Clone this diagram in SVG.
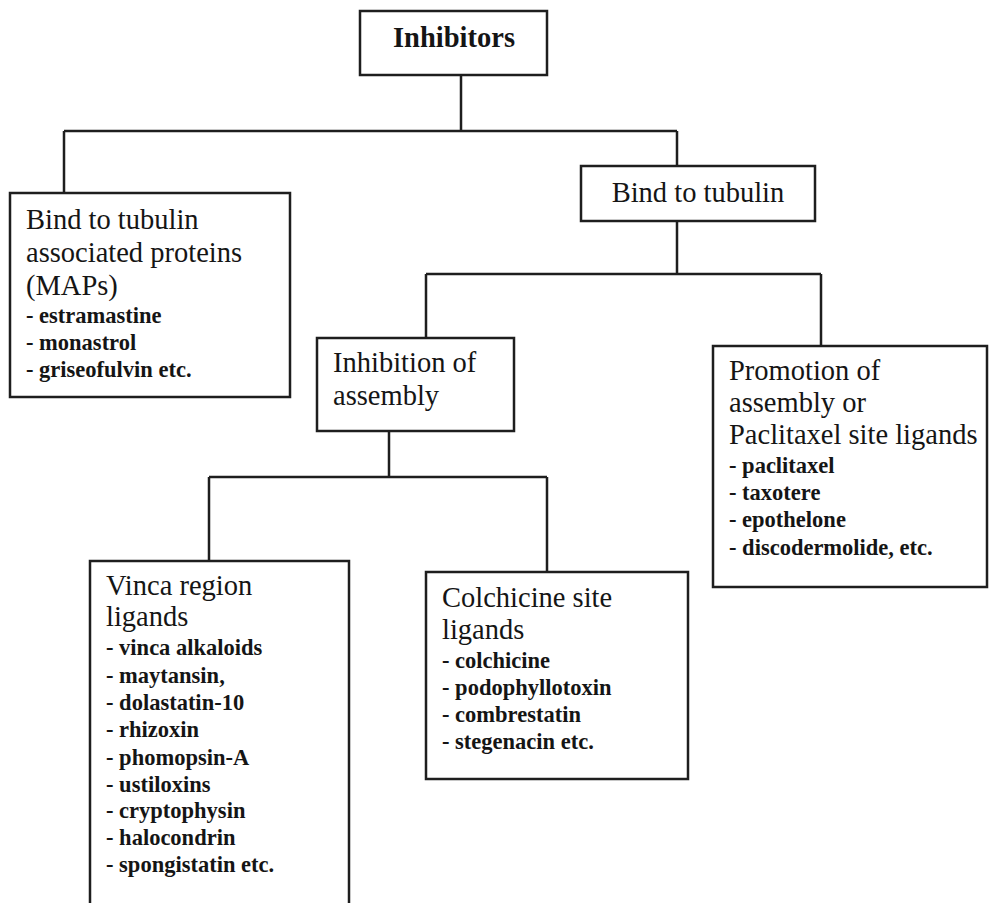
<svg xmlns="http://www.w3.org/2000/svg" width="990" height="903" viewBox="0 0 990 903">
<style>
.box{fill:#fff;stroke:#1e1e1e;stroke-width:2.5}
.ln{fill:none;stroke:#1e1e1e;stroke-width:2.5}
.h{font-family:"Liberation Serif","Times New Roman",serif;font-size:28.5px;fill:#151515}
.hb{font-family:"Liberation Serif","Times New Roman",serif;font-size:28.5px;font-weight:bold;fill:#151515}
.l{font-family:"Liberation Serif","Times New Roman",serif;font-size:22.5px;font-weight:bold;fill:#151515}
</style>
<rect width="990" height="903" fill="#fff"/>
<g id="connectors">
<path class="ln" d="M461 75V131M64 131H677M64 131V193M677 131V166"/>
<path class="ln" d="M677 221V274M426 274H821M426 274V338M821 274V346"/>
<path class="ln" d="M389 431V477M209 477H547M209 477V561M547 477V572"/>
</g>
<g id="inhibitors">
<rect class="box" x="360" y="11" width="187" height="64"/>
<text class="hb" x="454" y="47" text-anchor="middle">Inhibitors</text>
</g>
<g id="maps">
<rect class="box" x="10" y="193" width="280" height="204"/>
<text class="h" x="26" y="229">Bind to tubulin</text>
<text class="h" x="26" y="262">associated proteins</text>
<text class="h" x="26" y="295">(MAPs)</text>
<text class="l" x="26" y="323">- estramastine</text>
<text class="l" x="26" y="350">- monastrol</text>
<text class="l" x="26" y="377">- griseofulvin etc.</text>
</g>
<g id="bind-tubulin">
<rect class="box" x="581" y="166" width="234" height="55"/>
<text class="h" x="698" y="202" text-anchor="middle">Bind to tubulin</text>
</g>
<g id="inhibition-assembly">
<rect class="box" x="317" y="338" width="197" height="93"/>
<text class="h" x="333" y="372">Inhibition of</text>
<text class="h" x="333" y="405">assembly</text>
</g>
<g id="promotion">
<rect class="box" x="713" y="346" width="274" height="241"/>
<text class="h" x="729" y="380">Promotion of</text>
<text class="h" x="729" y="412">assembly or</text>
<text class="h" x="729" y="444">Paclitaxel site ligands</text>
<text class="l" x="729" y="473">- paclitaxel</text>
<text class="l" x="729" y="500">- taxotere</text>
<text class="l" x="729" y="527">- epothelone</text>
<text class="l" x="729" y="555">- discodermolide, etc.</text>
</g>
<g id="vinca">
<rect class="box" x="90" y="561" width="259" height="360"/>
<text class="h" x="106" y="595">Vinca region</text>
<text class="h" x="106" y="626">ligands</text>
<text class="l" x="106" y="655">- vinca alkaloids</text>
<text class="l" x="106" y="683">- maytansin,</text>
<text class="l" x="106" y="710">- dolastatin-10</text>
<text class="l" x="106" y="737">- rhizoxin</text>
<text class="l" x="106" y="765">- phomopsin-A</text>
<text class="l" x="106" y="792">- ustiloxins</text>
<text class="l" x="106" y="818">- cryptophysin</text>
<text class="l" x="106" y="845">- halocondrin</text>
<text class="l" x="106" y="872">- spongistatin etc.</text>
</g>
<g id="colchicine">
<rect class="box" x="426" y="572" width="262" height="207"/>
<text class="h" x="442" y="607">Colchicine site</text>
<text class="h" x="442" y="639">ligands</text>
<text class="l" x="442" y="668">- colchicine</text>
<text class="l" x="442" y="695">- podophyllotoxin</text>
<text class="l" x="442" y="722">- combrestatin</text>
<text class="l" x="442" y="749">- stegenacin etc.</text>
</g>
</svg>
